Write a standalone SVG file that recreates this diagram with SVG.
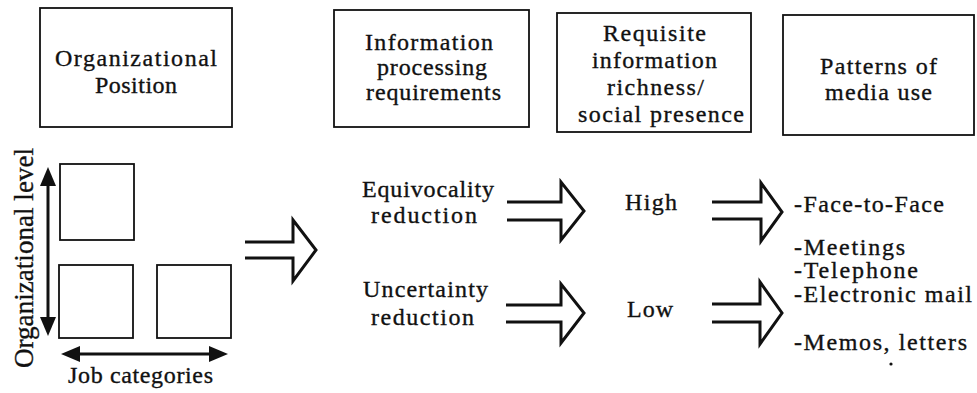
<svg xmlns="http://www.w3.org/2000/svg" width="977" height="393" viewBox="0 0 977 393">
  <style>
    .box { fill: none; stroke: #111; stroke-width: 1.8; }
    .cell { fill: none; stroke: #111; stroke-width: 1.8; }
    .lbl { font-family: "Liberation Serif", "Times New Roman", serif; font-size: 24px; fill: #111; stroke: #111; stroke-width: 0.35; }
    .side { font-family: "Liberation Serif", "Times New Roman", serif; font-size: 27px; fill: #111; stroke: #111; stroke-width: 0.35; }
    .hollow { fill: none; stroke: #111; stroke-width: 3; stroke-linejoin: miter; }
    .axis { stroke: #111; stroke-width: 3; fill: none; }
  </style>
  <defs>
    <marker id="head" viewBox="0 0 19 16" refX="1" refY="8" markerWidth="19" markerHeight="16" markerUnits="userSpaceOnUse" orient="auto-start-reverse">
      <path d="M0,0 L19,8 L0,16 Z" fill="#111"/>
    </marker>
  </defs>

  <!-- column headers -->
  <g id="organizational-position">
    <rect class="box" x="40" y="8" width="192" height="119"/>
    <text class="lbl" x="55" y="66" textLength="162" lengthAdjust="spacing">Organizational</text>
    <text class="lbl" x="95" y="93" textLength="82" lengthAdjust="spacing">Position</text>
  </g>
  <g id="information-processing">
    <rect class="box" x="334" y="10" width="195" height="117"/>
    <text class="lbl" x="365" y="50" textLength="128" lengthAdjust="spacing">Information</text>
    <text class="lbl" x="377" y="75" textLength="110" lengthAdjust="spacing">processing</text>
    <text class="lbl" x="366" y="100" textLength="135" lengthAdjust="spacing">requirements</text>
  </g>
  <g id="requisite-richness">
    <rect class="box" x="557" y="13" width="194" height="119"/>
    <text class="lbl" x="603" y="41" textLength="103" lengthAdjust="spacing">Requisite</text>
    <text class="lbl" x="592" y="68" textLength="125" lengthAdjust="spacing">information</text>
    <text class="lbl" x="607" y="95" textLength="97" lengthAdjust="spacing">richness/</text>
    <text class="lbl" x="578" y="122" textLength="166" lengthAdjust="spacing">social presence</text>
  </g>
  <g id="media-use">
    <rect class="box" x="783" y="15" width="191" height="120"/>
    <text class="lbl" x="820" y="74" textLength="117" lengthAdjust="spacing">Patterns of</text>
    <text class="lbl" x="825" y="100" textLength="107" lengthAdjust="spacing">media use</text>
  </g>

  <!-- position grid with its two axes -->
  <g id="position-grid">
    <rect class="cell" x="60" y="164" width="74" height="76"/>
    <rect class="cell" x="59" y="265" width="74" height="73"/>
    <rect class="cell" x="157" y="265" width="74" height="73"/>
    <line class="axis" x1="48" y1="185" x2="48" y2="318" marker-start="url(#head)" marker-end="url(#head)"/>
    <line class="axis" x1="79" y1="354" x2="210" y2="354" marker-start="url(#head)" marker-end="url(#head)"/>
    <text class="side" transform="translate(33,368) rotate(-90)" textLength="220" lengthAdjust="spacing">Organizational level</text>
    <text class="lbl" x="68" y="383" textLength="145" lengthAdjust="spacing">Job categories</text>
  </g>

  <!-- processing requirements -->
  <g id="equivocality">
    <text class="lbl" x="362" y="197" textLength="132" lengthAdjust="spacing">Equivocality</text>
    <text class="lbl" x="371" y="223" textLength="106" lengthAdjust="spacing">reduction</text>
  </g>
  <g id="uncertainty">
    <text class="lbl" x="363" y="297" textLength="125" lengthAdjust="spacing">Uncertainty</text>
    <text class="lbl" x="371" y="325" textLength="103" lengthAdjust="spacing">reduction</text>
  </g>

  <!-- richness levels -->
  <g id="high">
    <text class="lbl" x="625" y="210" textLength="52" lengthAdjust="spacing">High</text>
  </g>
  <g id="low">
    <text class="lbl" x="627" y="317" textLength="46" lengthAdjust="spacing">Low</text>
  </g>

  <!-- media list -->
  <g id="media-list">
    <text class="lbl" x="794" y="212" textLength="150" lengthAdjust="spacing">-Face-to-Face</text>
    <text class="lbl" x="794" y="255" textLength="111" lengthAdjust="spacing">-Meetings</text>
    <text class="lbl" x="794" y="278" textLength="124" lengthAdjust="spacing">-Telephone</text>
    <text class="lbl" x="794" y="302" textLength="178" lengthAdjust="spacing">-Electronic mail</text>
    <text class="lbl" x="794" y="350" textLength="173" lengthAdjust="spacing">-Memos, letters</text>
    <circle cx="891" cy="364" r="1.6" fill="#111"/>
  </g>

  <!-- open double-line arrows -->
  <g id="connectors">
    <path class="hollow" d="M245,242 H293 V220 L316,250 L293,281 V258 H245"/>
    <path class="hollow" d="M507,202 H561 V182 L584,211 L561,240 V220 H507"/>
    <path class="hollow" d="M506,305 H561 V284 L584,313 L561,343 V322 H506"/>
    <path class="hollow" d="M712,202 H761 V183 L782,212 L761,241 V219 H712"/>
    <path class="hollow" d="M712,304 H760 V282 L782,313 L760,344 V322 H712"/>
  </g>
</svg>
